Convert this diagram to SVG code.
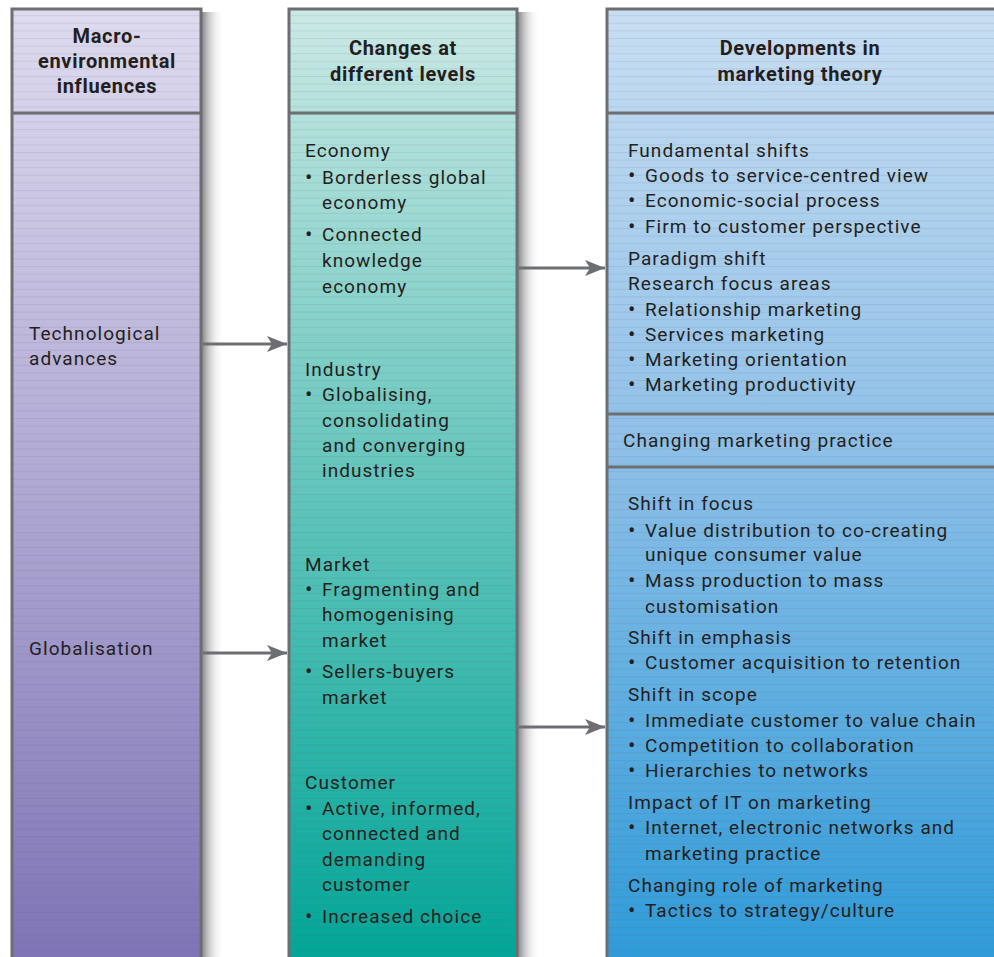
<svg xmlns="http://www.w3.org/2000/svg" width="994" height="957" viewBox="0 0 994 957">
<defs>
<linearGradient id="g1" x1="0" y1="0" x2="0" y2="1">
<stop offset="0" stop-color="#dedbef"/>
<stop offset="0.5" stop-color="#afa8d3"/>
<stop offset="1" stop-color="#7e73b5"/>
</linearGradient>
<linearGradient id="g2" x1="0" y1="0" x2="0" y2="1">
<stop offset="0" stop-color="#cbe9e5"/>
<stop offset="0.45" stop-color="#6cc8bf"/>
<stop offset="1" stop-color="#00a597"/>
</linearGradient>
<linearGradient id="g3" x1="0" y1="0" x2="0" y2="1">
<stop offset="0" stop-color="#c8def2"/>
<stop offset="0.45" stop-color="#8fc0e8"/>
<stop offset="1" stop-color="#2d9ad8"/>
</linearGradient>
<linearGradient id="sh" x1="0" y1="0" x2="1" y2="0">
<stop offset="0" stop-color="#8a8a8e"/>
<stop offset="0.3" stop-color="#c8c8ca"/>
<stop offset="1" stop-color="#ffffff" stop-opacity="0"/>
</linearGradient>
<pattern id="lines" width="40" height="7.6" patternUnits="userSpaceOnUse">
<rect x="0" y="0" width="40" height="1" fill="#5a5a70" opacity="0.13"/>
</pattern>
<marker id="ah" viewBox="0 0 20 16" refX="20" refY="8" markerWidth="20" markerHeight="16" markerUnits="userSpaceOnUse" orient="auto">
<path d="M0,0 L20,8 L0,16 L5,8 Z" fill="#6d6e71"/>
</marker>
<style>
.box{stroke:#6d6e71;stroke-width:3}
.div{stroke:#6d6e71;stroke-width:3}
.hd{font-family:"Roboto","Liberation Sans",sans-serif;font-weight:bold;font-size:20px;fill:#231f20;text-anchor:middle;letter-spacing:0.7px}
.t{font-family:"Roboto","Liberation Sans",sans-serif;font-size:19px;fill:#231f20;letter-spacing:1.05px}
.b{font-family:"Roboto","Liberation Sans",sans-serif;font-size:22px;fill:#231f20}
.conn{stroke:#6d6e71;stroke-width:3;fill:none}
</style>
</defs>
<rect width="994" height="957" fill="#ffffff"/>
<rect x="202" y="12" width="22" height="945" fill="url(#sh)"/>
<rect x="518" y="12" width="22" height="945" fill="url(#sh)"/>

<g id="col1">
<rect class="box" x="12" y="9" width="189" height="960" fill="url(#g1)"/>
<rect x="13.5" y="10.5" width="186" height="950" fill="url(#lines)"/>
<line class="div" x1="12" y1="113" x2="201" y2="113"/>
<text class="hd"><tspan x="107" y="43">Macro-</tspan><tspan x="107" y="68">environmental</tspan><tspan x="107" y="93">influences</tspan></text>
<text class="t"><tspan x="29" y="340">Technological</tspan><tspan x="29" y="365">advances</tspan></text>
<text class="t" x="29" y="655">Globalisation</text>
</g>

<g id="col2">
<rect class="box" x="289" y="9" width="228" height="960" fill="url(#g2)"/>
<rect x="290.5" y="10.5" width="225" height="950" fill="url(#lines)"/>
<line class="div" x1="289" y1="113" x2="517" y2="113"/>
<text class="hd"><tspan x="403" y="55">Changes at</tspan><tspan x="403" y="81">different levels</tspan></text>
<text class="b">
<tspan x="305" y="185">•</tspan><tspan x="305" y="242">•</tspan><tspan x="305" y="402">•</tspan>
<tspan x="305" y="597">•</tspan><tspan x="305" y="679">•</tspan><tspan x="305" y="816">•</tspan><tspan x="305" y="924">•</tspan>
</text>
<text class="t">
<tspan x="305" y="157">Economy</tspan>
<tspan x="322" y="184">Borderless global</tspan>
<tspan x="322" y="209">economy</tspan>
<tspan x="322" y="241">Connected</tspan>
<tspan x="322" y="267">knowledge</tspan>
<tspan x="322" y="293">economy</tspan>
<tspan x="305" y="376">Industry</tspan>
<tspan x="322" y="401">Globalising,</tspan>
<tspan x="322" y="427">consolidating</tspan>
<tspan x="322" y="452">and converging</tspan>
<tspan x="322" y="477">industries</tspan>
<tspan x="305" y="571">Market</tspan>
<tspan x="322" y="596">Fragmenting and</tspan>
<tspan x="322" y="621">homogenising</tspan>
<tspan x="322" y="647">market</tspan>
<tspan x="322" y="678">Sellers-buyers</tspan>
<tspan x="322" y="704">market</tspan>
<tspan x="305" y="789">Customer</tspan>
<tspan x="322" y="815">Active, informed,</tspan>
<tspan x="322" y="840">connected and</tspan>
<tspan x="322" y="866">demanding</tspan>
<tspan x="322" y="891">customer</tspan>
<tspan x="322" y="923">Increased choice</tspan>
</text>
</g>

<g id="col3">
<rect class="box" x="607" y="9" width="400" height="960" fill="url(#g3)"/>
<rect x="608.5" y="10.5" width="390" height="950" fill="url(#lines)"/>
<line class="div" x1="607" y1="113" x2="994" y2="113"/>
<line class="div" x1="607" y1="414" x2="994" y2="414"/>
<line class="div" x1="607" y1="467" x2="994" y2="467"/>
<text class="hd"><tspan x="800" y="55">Developments in</tspan><tspan x="800" y="81">marketing theory</tspan></text>
<text class="b">
<tspan x="628" y="183">•</tspan><tspan x="628" y="208">•</tspan><tspan x="628" y="234">•</tspan>
<tspan x="628" y="317">•</tspan><tspan x="628" y="342">•</tspan><tspan x="628" y="367">•</tspan><tspan x="628" y="392">•</tspan>
<tspan x="628" y="538">•</tspan><tspan x="628" y="588">•</tspan><tspan x="628" y="670">•</tspan>
<tspan x="628" y="728">•</tspan><tspan x="628" y="753">•</tspan><tspan x="628" y="778">•</tspan>
<tspan x="628" y="835">•</tspan><tspan x="628" y="918">•</tspan>
</text>
<text class="t">
<tspan x="628" y="157">Fundamental shifts</tspan>
<tspan x="645" y="182">Goods to service-centred view</tspan>
<tspan x="645" y="207">Economic-social process</tspan>
<tspan x="645" y="233">Firm to customer perspective</tspan>
<tspan x="628" y="265">Paradigm shift</tspan>
<tspan x="628" y="290">Research focus areas</tspan>
<tspan x="645" y="316">Relationship marketing</tspan>
<tspan x="645" y="341">Services marketing</tspan>
<tspan x="645" y="366">Marketing orientation</tspan>
<tspan x="645" y="391">Marketing productivity</tspan>
</text>
<text class="t" x="623" y="447">Changing marketing practice</text>
<text class="t">
<tspan x="628" y="510">Shift in focus</tspan>
<tspan x="645" y="537">Value distribution to co-creating</tspan>
<tspan x="645" y="561">unique consumer value</tspan>
<tspan x="645" y="587">Mass production to mass</tspan>
<tspan x="645" y="613">customisation</tspan>
<tspan x="628" y="644">Shift in emphasis</tspan>
<tspan x="645" y="669">Customer acquisition to retention</tspan>
<tspan x="628" y="701">Shift in scope</tspan>
<tspan x="645" y="727">Immediate customer to value chain</tspan>
<tspan x="645" y="752">Competition to collaboration</tspan>
<tspan x="645" y="777">Hierarchies to networks</tspan>
<tspan x="628" y="809">Impact of IT on marketing</tspan>
<tspan x="645" y="834">Internet, electronic networks and</tspan>
<tspan x="645" y="860">marketing practice</tspan>
<tspan x="628" y="892">Changing role of marketing</tspan>
<tspan x="645" y="917">Tactics to strategy/culture</tspan>
</text>
</g>

<g id="connectors">
<line class="conn" x1="203" y1="344" x2="287" y2="344" marker-end="url(#ah)"/>
<line class="conn" x1="203" y1="653" x2="287" y2="653" marker-end="url(#ah)"/>
<line class="conn" x1="519" y1="268" x2="605" y2="268" marker-end="url(#ah)"/>
<line class="conn" x1="519" y1="727" x2="605" y2="727" marker-end="url(#ah)"/>
</g>
</svg>
